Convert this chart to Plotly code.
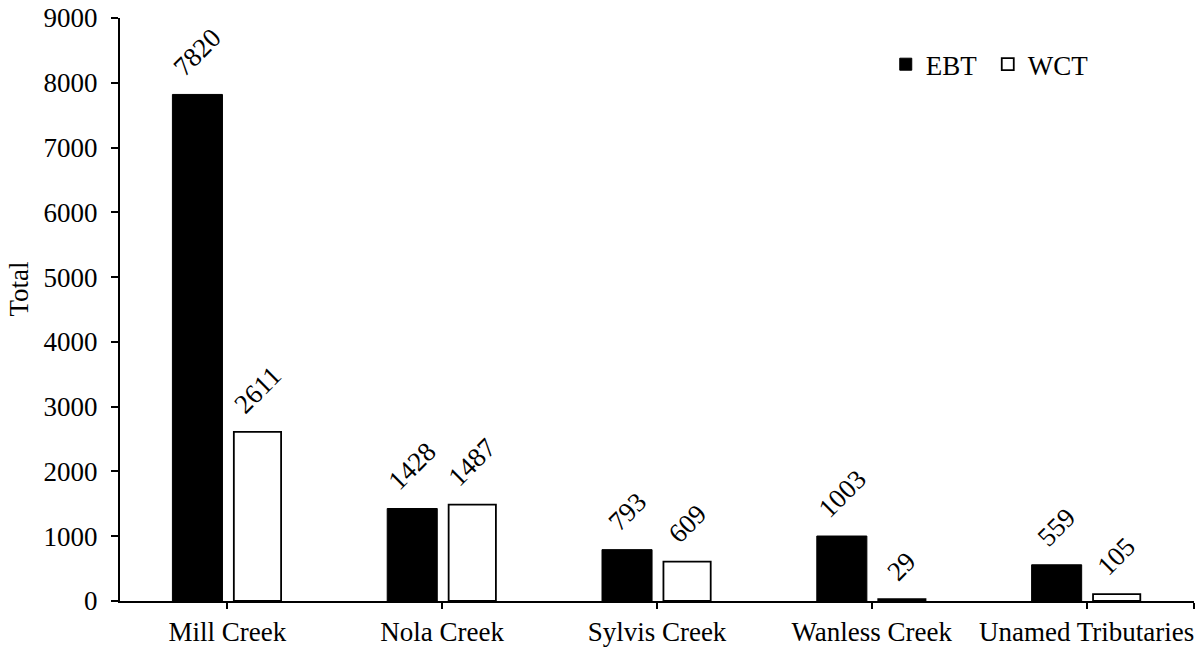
import plotly.graph_objects as go

# Catch totals by stream and species
streams = ["Mill Creek", "Nola Creek", "Sylvis Creek", "Wanless Creek", "Unamed Tributaries"]
ebt = [7820, 1428, 793, 1003, 559]
wct = [2611, 1487, 609, 29, 105]
y_ticks = [0, 1000, 2000, 3000, 4000, 5000, 6000, 7000, 8000, 9000]

FONT = "'Times New Roman', 'Liberation Serif', 'DejaVu Serif', serif"
FS = 27

pos = list(range(len(streams)))

# bar geometry in category units
EBT_OFF, EBT_W = -0.256, 0.233
WCT_OFF, WCT_W = 0.030, 0.220

fig = go.Figure()
fig.add_trace(go.Bar(
    name="EBT", x=pos, y=ebt, offset=EBT_OFF, width=EBT_W,
    marker=dict(color="black", line=dict(color="black", width=1)),
))
fig.add_trace(go.Bar(
    name="WCT", x=pos, y=wct, offset=WCT_OFF, width=WCT_W,
    marker=dict(color="white", line=dict(color="black", width=1.8)),
))

annotations = []
for i in pos:
    for vals, off, w in ((ebt, EBT_OFF, EBT_W), (wct, WCT_OFF, WCT_W)):
        annotations.append(dict(
            x=i + off + w / 2, y=vals[i], xref="x", yref="y",
            text=str(vals[i]), textangle=-45, showarrow=False,
            xanchor="center", yanchor="bottom", yshift=10,
            font=dict(family=FONT, size=FS, color="black"),
        ))

annotations.append(dict(
    x=0, y=0.5, xref="paper", yref="paper", xanchor="center", yanchor="middle",
    xshift=-102, yshift=20, text="Total", textangle=-90, showarrow=False,
    font=dict(family=FONT, size=FS, color="black"),
))

fig.update_layout(
    width=1199, height=648,
    margin=dict(l=120, r=5, t=18, b=47),
    paper_bgcolor="white", plot_bgcolor="white",
    barmode="overlay",
    font=dict(family=FONT, size=FS, color="black"),
    showlegend=True,
    legend=dict(
        orientation="h", x=0.713, y=0.92, xanchor="left", yanchor="middle",
        font=dict(family=FONT, size=FS, color="black"),
        bgcolor="rgba(0,0,0,0)", itemwidth=30, entrywidth=57,
    ),
    annotations=annotations,
)

fig.update_xaxes(
    range=[-0.5, 4.5],
    tickmode="array",
    tickvals=pos + [len(streams) - 0.5],
    ticktext=streams + [""],
    ticks="outside", ticklen=6, tickwidth=2, tickcolor="black",
    showline=True, linecolor="black", linewidth=2,
    showgrid=False, zeroline=False, automargin=False,
    tickfont=dict(family=FONT, size=FS, color="black"),
    ticklabelstandoff=0,
)
fig.update_yaxes(
    range=[0, 9000],
    tickmode="array", tickvals=y_ticks, ticktext=[str(v) for v in y_ticks],
    ticks="outside", ticklen=7, tickwidth=2, tickcolor="black",
    showline=True, linecolor="black", linewidth=2,
    showgrid=False, zeroline=False, automargin=False,
    tickfont=dict(family=FONT, size=FS, color="black"),
    ticklabelstandoff=8,
)

fig.write_html("out.html")
